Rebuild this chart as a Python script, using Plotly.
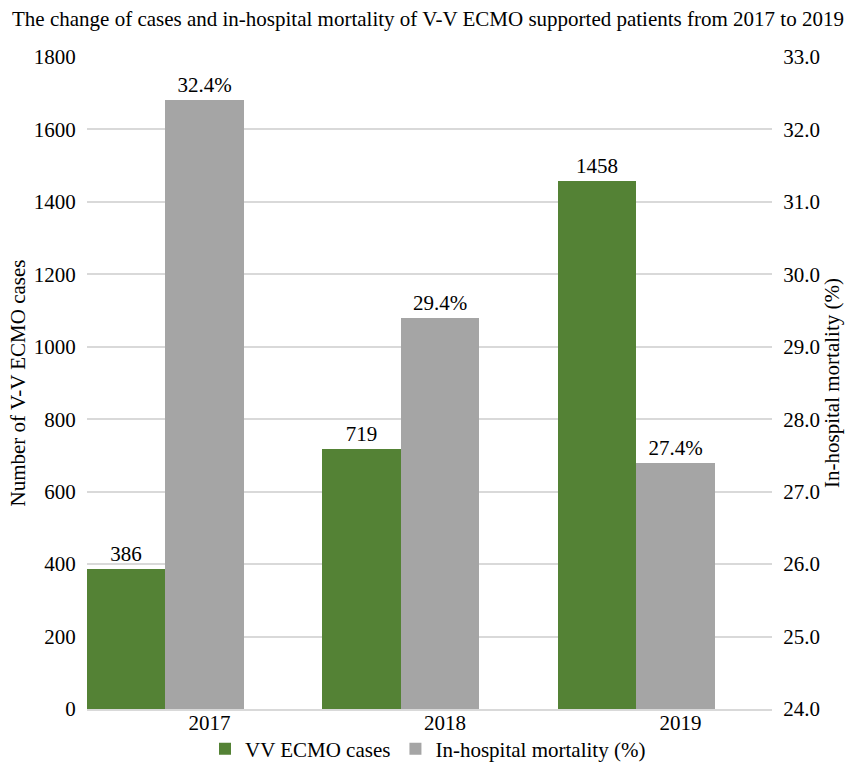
import plotly.graph_objects as go

# Data
years = ["2017", "2018", "2019"]
vv_ecmo_cases = [386, 719, 1458]
mortality_pct = [32.4, 29.4, 27.4]

FONT = "Liberation Serif, Times New Roman, serif"
FS = 21
GREEN = "#548235"
GRAY = "#A5A5A5"
GRID = "#D9D9D9"

idx = list(range(len(years)))
slot = 1 / 3  # three bar slots per category

fig = go.Figure()
fig.add_trace(go.Bar(
    x=idx, y=vv_ecmo_cases, name="VV ECMO cases",
    marker=dict(color=GREEN, line=dict(width=0)),
    width=slot, offset=-0.5,
    text=[str(v) for v in vv_ecmo_cases], textposition="outside",
    textfont=dict(family=FONT, size=FS, color="#000000"),
    cliponaxis=False, yaxis="y",
))
fig.add_trace(go.Bar(
    x=idx, y=mortality_pct, name="In-hospital mortality (%)",
    marker=dict(color=GRAY, line=dict(width=0)),
    width=slot, offset=-0.5 + slot,
    text=[f"{v:.1f}%" for v in mortality_pct], textposition="outside",
    textfont=dict(family=FONT, size=FS, color="#000000"),
    cliponaxis=False, yaxis="y2",
))

fig.update_layout(
    width=856, height=766,
    margin=dict(l=87, r=84, t=57, b=57, autoexpand=False),
    paper_bgcolor="white", plot_bgcolor="white",
    font=dict(family=FONT, size=FS, color="#000000"),
    title=dict(
        text="The change of cases and in-hospital mortality of V-V ECMO supported patients from 2017 to 2019",
        x=0.5, xanchor="center", y=0.976, yanchor="middle",
        font=dict(family=FONT, size=FS, color="#000000"),
    ),
    barmode="overlay",
    bargap=0,
    xaxis=dict(
        range=[-0.5, 2.409], automargin=False,
        tickvals=[i + 0.02 for i in idx], ticktext=years,
        showgrid=False, zeroline=False,
        showline=True, linecolor=GRID, linewidth=2,
        ticks="", ticklabelstandoff=-6,
        tickfont=dict(family=FONT, size=FS, color="#000000"),
    ),
    yaxis=dict(
        range=[0, 1800], dtick=200, automargin=False,
        showgrid=True, gridcolor=GRID, gridwidth=1.5,
        zeroline=False, showline=False,
        ticks="outside", ticklen=6, tickcolor="rgba(0,0,0,0)",
        tickfont=dict(family=FONT, size=FS, color="#000000"),
        title=dict(text="Number of V-V ECMO cases", standoff=2,
                   font=dict(family=FONT, size=FS, color="#000000")),
    ),
    yaxis2=dict(
        range=[24, 33], dtick=1, tickformat=".1f", automargin=False,
        overlaying="y", side="right",
        showgrid=False, zeroline=False, showline=False,
        ticks="outside", ticklen=6, tickcolor="rgba(0,0,0,0)",
        tickfont=dict(family=FONT, size=FS, color="#000000"),
        title=dict(text="In-hospital mortality (%)", standoff=4,
                   font=dict(family=FONT, size=FS, color="#000000")),
    ),
    legend=dict(
        orientation="h", x=0.5, xanchor="center", xref="container",
        y=0.022, yanchor="middle", yref="container",
        bgcolor="rgba(0,0,0,0)",
        font=dict(family=FONT, size=FS, color="#000000"),
        itemwidth=30, tracegroupgap=0,
    ),
)

fig.write_html("out.html")
